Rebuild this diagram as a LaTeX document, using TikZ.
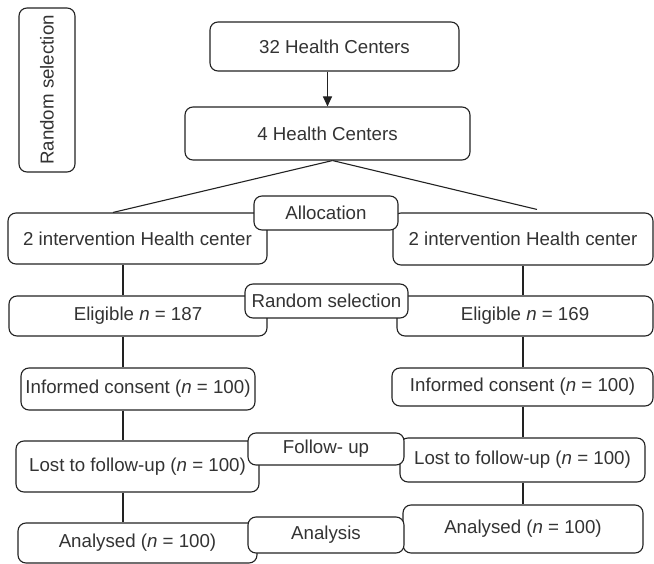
\documentclass[tikz,border=0pt]{standalone}
\usepackage{fontspec}
\setmainfont{Liberation Sans}
\usetikzlibrary{arrows.meta,calc}
\definecolor{txtgray}{HTML}{333333}
\definecolor{linegray}{HTML}{222222}
\begin{document}
\begin{tikzpicture}[x=1pt,y=-1pt,
  box/.style={draw=linegray, line width=1.1pt, rounded corners=8pt, fill=white,
    inner sep=0pt, align=center, text=txtgray,
    font=\fontsize{18.7}{22}\selectfont},
  link/.style={draw=linegray, line width=1.1pt}]
\useasboundingbox (0,0) rectangle (654,564);
\coordinate (lcol) at (123,0);
\coordinate (rcol) at (523,0);
% top part
\node[box, rotate=90, minimum width=164pt, minimum height=56pt] (rsv) at (47,90) {Random selection};
\node[box, minimum width=249pt, minimum height=49pt] (hc32) at (334.5,46.5) {32 Health Centers};
\node[box, minimum width=285pt, minimum height=53pt] (hc4) at (327.5,133.5) {4 Health Centers};
% left column
\node[box, minimum width=259pt, minimum height=51pt] (ihl) at (137.5,238.5) {\raisebox{-4pt}{2 intervention Health center}};
\node[box, minimum width=258pt, minimum height=40pt] (elL) at (138,316) {Eligible \textit{n} = 187};
\node[box, minimum width=234pt, minimum height=42pt] (icL) at (138,389) {Informed consent (\textit{n} = 100)};
\node[box, minimum width=243pt, minimum height=51pt] (lostL) at (137.5,466.5) {Lost to follow-up (\textit{n} = 100)};
\node[box, minimum width=239pt, minimum height=40pt] (anaL) at (137.5,543) {Analysed (\textit{n} = 100)};
% right column
\node[box, minimum width=260pt, minimum height=52pt] (ihr) at (523,239) {2 intervention Health center};
\node[box, minimum width=256pt, minimum height=40pt] (elR) at (525,316) {Eligible \textit{n} = 169};
\node[box, minimum width=261pt, minimum height=38pt] (icR) at (522.5,387) {Informed consent (\textit{n} = 100)};
\node[box, minimum width=245pt, minimum height=44pt] (lostR) at (522.5,460) {Lost to follow-up (\textit{n} = 100)};
\node[box, minimum width=240pt, minimum height=48pt] (anaR) at (523,529) {Analysed (\textit{n} = 100)};
% stage labels
\node[box, minimum width=144pt, minimum height=34pt] (alloc) at (326,213) {Allocation};
\node[box, minimum width=163pt, minimum height=34pt] (rsel) at (326.5,301) {Random selection};
\node[box, minimum width=156pt, minimum height=32pt] (fol) at (326,449) {Follow- up};
\node[box, minimum width=156pt, minimum height=36pt] (ana) at (326,535) {Analysis};
% connectors
\draw[link, -{Triangle[length=10pt,width=9pt]}] (hc32.south -| hc4.north) -- (hc4.north);
\draw[link] ([xshift=5pt]hc4.south) -- ([xshift=-24.5pt]ihl.north);
\draw[link] ([xshift=5pt]hc4.south) -- ([xshift=14pt,yshift=3pt]ihr.north);
\draw[link] (ihl.south -| lcol) -- (elL.north -| lcol);
\draw[link] (elL.south -| lcol) -- (icL.north -| lcol);
\draw[link] (icL.south -| lcol) -- (lostL.north -| lcol);
\draw[link] (lostL.south -| lcol) -- (anaL.north -| lcol);
\draw[link] (ihr.south -| rcol) -- (elR.north -| rcol);
\draw[link] (elR.south -| rcol) -- (icR.north -| rcol);
\draw[link] (icR.south -| rcol) -- (lostR.north -| rcol);
\draw[link] (lostR.south -| rcol) -- (anaR.north -| rcol);
\end{tikzpicture}
\end{document}
